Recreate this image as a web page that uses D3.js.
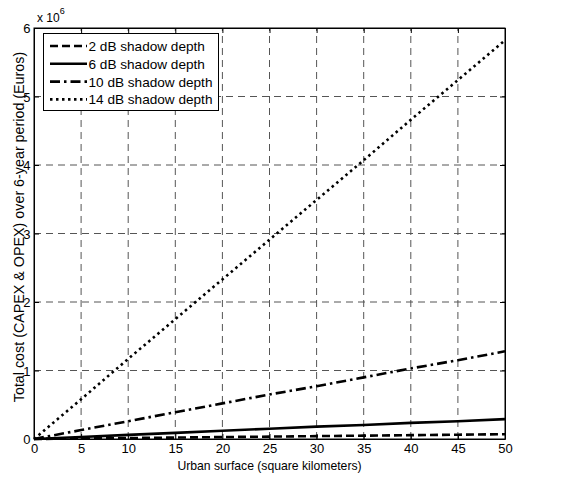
<!DOCTYPE html>
<html>
<head>
<meta charset="utf-8">
<script src="https://cdn.jsdelivr.net/npm/d3@7"></script>
<style>
  body { margin: 0; background: #fff; }
  text { font-family: "Liberation Sans", Arial, sans-serif; }
</style>
</head>
<body>
<div id="chart"></div>
<script>
// surface in km^2
const surface = [0, 5, 10, 15, 20, 25, 30, 35, 40, 45, 50];
// total cost, units of 1e6 euros
const cost2dB  = [0, 0.007, 0.014, 0.021, 0.028, 0.035, 0.042, 0.049, 0.056, 0.063, 0.07];
const cost6dB  = [0, 0.03, 0.06, 0.09, 0.12, 0.15, 0.18, 0.205, 0.235, 0.26, 0.29];
const cost10dB = [0, 0.13, 0.26, 0.39, 0.52, 0.65, 0.77, 0.9, 1.03, 1.15, 1.28];
const cost14dB = [0, 0.58, 1.17, 1.75, 2.33, 2.91, 3.49, 4.07, 4.66, 5.24, 5.82];
const seriesNames = ["2 dB shadow depth", "6 dB shadow depth", "10 dB shadow depth", "14 dB shadow depth"];
const xTicks = [0, 5, 10, 15, 20, 25, 30, 35, 40, 45, 50];
const yTicks = [0, 1, 2, 3, 4, 5, 6];

const width = 579, height = 477;
const margin = { left: 34, right: 74, top: 28, bottom: 38 };

const svg = d3.select("#chart").append("svg")
    .attr("width", width)
    .attr("height", height);

const x = d3.scaleLinear().domain([0, 50]).range([margin.left, width - margin.right]);
const y = d3.scaleLinear().domain([0, 6]).range([height - margin.bottom, margin.top]);

// grid
svg.append("g").selectAll("line")
    .data(xTicks.slice(1, -1))
    .join("line")
    .attr("x1", d => x(d)).attr("x2", d => x(d))
    .attr("y1", y(0)).attr("y2", y(6))
    .attr("stroke", "#555").attr("stroke-width", 1)
    .attr("stroke-dasharray", "7,5");
svg.append("g").selectAll("line")
    .data(yTicks.slice(1, -1))
    .join("line")
    .attr("x1", x(0)).attr("x2", x(50))
    .attr("y1", d => y(d)).attr("y2", d => y(d))
    .attr("stroke", "#555").attr("stroke-width", 1)
    .attr("stroke-dasharray", "7,5");

// axes (ticks inside, MATLAB style)
const fmt = d3.format("d");
svg.append("g")
    .attr("transform", `translate(0,${y(0)})`)
    .call(d3.axisBottom(x).tickValues(xTicks).tickFormat(fmt).tickSizeInner(-5).tickSizeOuter(0).tickPadding(5));
const yAx = svg.append("g")
    .attr("transform", `translate(${x(0)},0)`)
    .call(d3.axisLeft(y).tickValues(yTicks).tickFormat(fmt).tickSizeInner(-5).tickSizeOuter(0).tickPadding(3.5));
yAx.selectAll(".tick text").attr("dy", "0.36em");
svg.append("g")
    .attr("transform", `translate(0,${y(6)})`)
    .call(d3.axisTop(x).tickValues(xTicks).tickSizeInner(-5).tickSizeOuter(0).tickFormat(""));
svg.append("g")
    .attr("transform", `translate(${x(50)},0)`)
    .call(d3.axisRight(y).tickValues(yTicks).tickSizeInner(-5).tickSizeOuter(0).tickFormat(""));
svg.selectAll(".domain").attr("stroke", "#000");
svg.selectAll(".tick line").attr("stroke", "#000");
svg.selectAll(".tick text").attr("font-size", 13).attr("fill", "#000")
    .style("font-family", "Liberation Sans, Arial, sans-serif");

// box
svg.append("rect")
    .attr("x", x(0)).attr("y", y(6))
    .attr("width", x(50) - x(0)).attr("height", y(0) - y(6))
    .attr("fill", "none").attr("stroke", "#000").attr("stroke-width", 1);

// series
const styles = [
    { data: cost2dB, dash: "8,4" },
    { data: cost6dB, dash: null },
    { data: cost10dB, dash: "10,4,2.5,4" },
    { data: cost14dB, dash: "2.5,3.5" }
];
const line = d3.line().x((d, i) => x(surface[i])).y(d => y(d));
styles.forEach(s => {
    svg.append("path")
        .datum(s.data)
        .attr("d", line)
        .attr("fill", "none")
        .attr("stroke", "#000")
        .attr("stroke-width", 2.6)
        .attr("stroke-dasharray", s.dash);
});

// exponent label
const expo = svg.append("text").attr("x", 37).attr("y", 22).attr("font-size", 12);
expo.append("tspan").text("x 10");
expo.append("tspan").attr("dy", -8).attr("font-size", 9).text("6");

// axis labels
svg.append("text")
    .attr("x", (x(0) + x(50)) / 2).attr("y", 470)
    .attr("text-anchor", "middle").attr("font-size", 12.2)
    .text("Urban surface (square kilometers)");
svg.append("text")
    .attr("transform", `translate(24,227) rotate(-90)`)
    .attr("text-anchor", "middle").attr("font-size", 14.3)
    .text("Total cost (CAPEX  & OPEX) over 6-year period (Euros)");

// legend
const lg = svg.append("g");
lg.append("rect")
    .attr("x", 43.5).attr("y", 33.5).attr("width", 175).attr("height", 77)
    .attr("fill", "#fff").attr("stroke", "#000").attr("stroke-width", 1);
seriesNames.forEach((name, i) => {
    const ly = 46 + i * 17.8;
    lg.append("line")
        .attr("x1", 50).attr("x2", 87).attr("y1", ly).attr("y2", ly)
        .attr("stroke", "#000").attr("stroke-width", 2.6)
        .attr("stroke-dasharray", styles[i].dash);
    lg.append("text")
        .attr("x", 88.5).attr("y", ly + 5).attr("font-size", 13.6)
        .text(name);
});
</script>
</body>
</html>
